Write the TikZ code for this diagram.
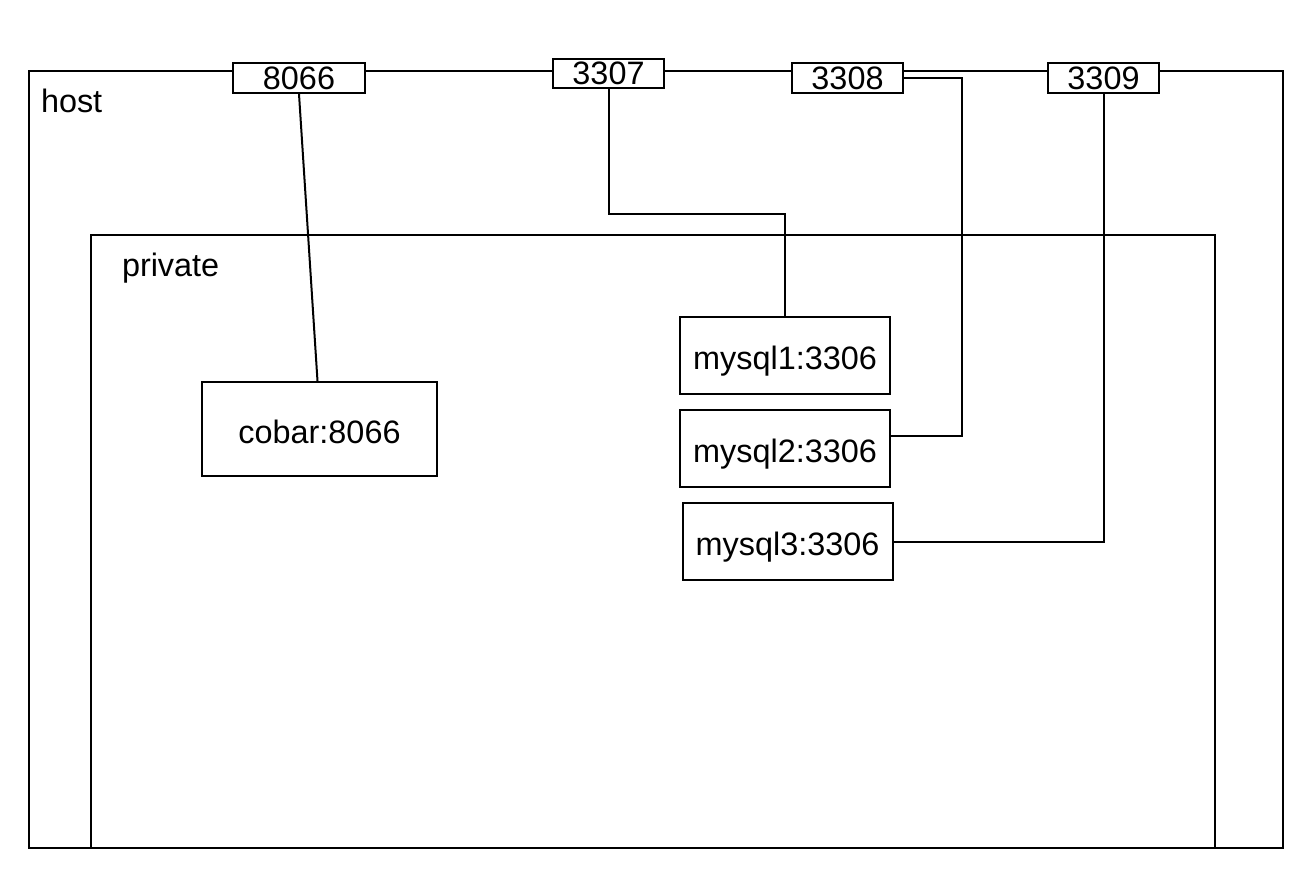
\documentclass[tikz,border=0pt]{standalone}
\usepackage{fontspec}
\setmainfont{Liberation Sans}
\usetikzlibrary{calc}

\begin{document}
\begin{tikzpicture}[x=0.5pt, y=-0.5pt, line width=1pt,
		every node/.style={font=\fontsize{16.2}{18}\selectfont},
		label/.style={anchor=base west, inner sep=0pt},
		port/.style={draw, fill=white, rectangle, minimum width=55.5pt, minimum height=15pt, inner sep=0pt},
		service/.style={draw, fill=white, rectangle, minimum width=105pt, minimum height=38.5pt, inner sep=0pt, text height=14pt, text depth=0pt}]
			\useasboundingbox (0, 0) rectangle (1304, 874);

			\draw (29, 71) rectangle (1283, 848);
			\draw (91, 235) rectangle (1215, 848);
			\draw (40, 112) node[label] 	(host_label) 	{host};
			\draw (121, 276) node[label] 	(private_label) {private};

			\draw (299, 78) 	node[port, minimum width=66pt] 	(port_8066) 	{8066};
			\draw (608.5, 73.5) node[port, minimum height=14.5pt] (port_3307) 	{3307};
			\draw (847.5, 78) 	node[port] 	(port_3308) 	{3308};
			\draw (1103.5, 78) 	node[port] 	(port_3309) 	{3309};

			\draw (319.5, 429) 	node[service, minimum width=117.5pt, minimum height=47pt] 	(cobar) 	{cobar:8066};
			\draw (785, 355.5) 	node[service] 	(mysql_1) 	{mysql1:3306};
			\draw (785, 448.5) 	node[service] 	(mysql_2) 	{mysql2:3306};
			\draw (787.5, 541.5) node[service] 	(mysql_3) 	{mysql3:3306};

			\coordinate (bend_3307) at (700, 214);
			\coordinate (bend_3308) at (962, 436);

			\draw (port_8066.south) -- ([xshift=-1pt]cobar.north);
			\draw (port_3307.south) |- (bend_3307) -| (mysql_1.north);
			\draw (port_3308.east) -| (bend_3308) -- (bend_3308 -| mysql_2.east);
			\draw (port_3309.south) |- (mysql_3.east);
		\end{tikzpicture}
\end{document}
